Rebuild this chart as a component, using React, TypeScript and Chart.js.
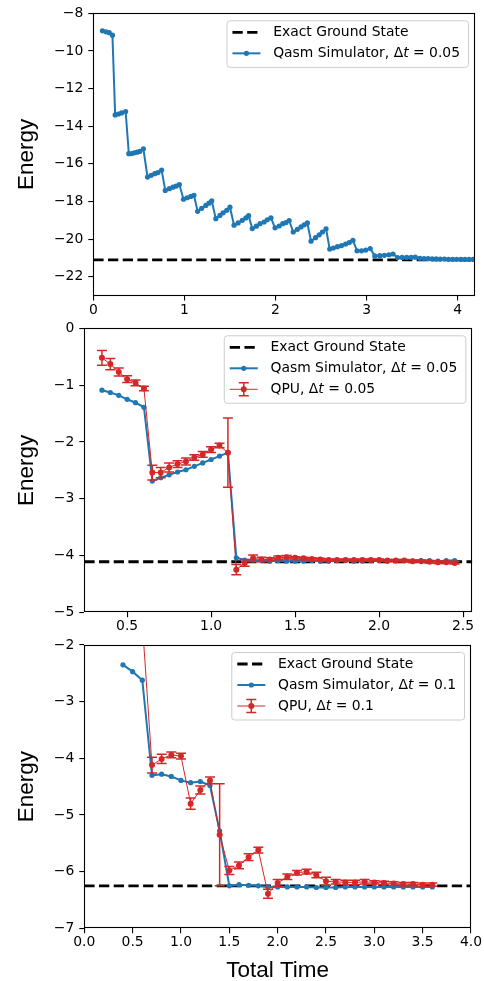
import React, { useEffect, useRef } from "react";
import { Chart, registerables } from "chart.js";
Chart.register(...registerables);

const BLUE = "#1f77b4";
const RED = "#d62728";
const W = 484;

// ---------- Panel 1 : Qasm simulator, dt = 0.05 ----------
const P1_SIM_X = [
  0.10, 0.14, 0.175, 0.21,
  0.24, 0.275, 0.31, 0.355,
  0.39, 0.42, 0.45, 0.48, 0.51, 0.55,
  0.595, 0.635, 0.675, 0.71, 0.75,
  0.79, 0.835, 0.875, 0.91, 0.945,
  0.99, 1.03, 1.07, 1.105,
  1.145, 1.19, 1.235, 1.27, 1.30,
  1.345, 1.39, 1.425, 1.465, 1.50,
  1.545, 1.59, 1.635, 1.675, 1.705,
  1.745, 1.79, 1.83, 1.875, 1.91, 1.95,
  1.995, 2.04, 2.08, 2.115, 2.15,
  2.195, 2.24, 2.28, 2.315, 2.35,
  2.39, 2.44, 2.48, 2.515, 2.555,
  2.595, 2.635, 2.68, 2.725, 2.77, 2.81, 2.85,
  2.895, 2.945, 2.99, 3.04,
  3.09, 3.145, 3.195, 3.245, 3.29,
  3.34, 3.39, 3.44, 3.49, 3.535,
  3.585, 3.63, 3.675, 3.72, 3.765, 3.81, 3.855, 3.90, 3.945, 3.99, 4.035, 4.08, 4.125, 4.17,
];
const P1_SIM_Y = [
  -8.93, -8.98, -9.03, -9.16,
  -13.40, -13.35, -13.29, -13.22,
  -15.46, -15.45, -15.41, -15.38, -15.34, -15.20,
  -16.70, -16.61, -16.52, -16.46, -16.33,
  -17.41, -17.32, -17.24, -17.18, -17.10,
  -17.88, -17.80, -17.73, -17.67,
  -18.52, -18.36, -18.21, -18.09, -17.96,
  -18.91, -18.74, -18.60, -18.47, -18.30,
  -19.26, -19.14, -19.00, -18.87, -18.75,
  -19.44, -19.31, -19.18, -19.09, -18.97, -18.87,
  -19.40, -19.30, -19.18, -19.12, -19.01,
  -19.62, -19.48, -19.35, -19.24, -19.14,
  -20.11, -19.92, -19.77, -19.62, -19.45,
  -20.53, -20.47, -20.40, -20.34, -20.26, -20.18, -20.06,
  -20.62, -20.62, -20.58, -20.50,
  -20.89, -20.88, -20.86, -20.83, -20.79,
  -20.98, -20.97, -20.97, -20.97, -20.96,
  -21.02, -21.03, -21.04, -21.05, -21.05, -21.06, -21.06, -21.07, -21.07, -21.07, -21.08, -21.08, -21.08, -21.08,
];
const P1_GROUND = -21.1;
const P1_X_RANGE = [0, 4.19];
const P1_Y_RANGE = [-23, -8];
const P1_X_TICKS = [0, 1, 2, 3, 4];
const P1_Y_TICKS = [-22, -20, -18, -16, -14, -12, -10, -8];

// ---------- Panel 2 : dt = 0.05 ----------
const P2_X = [
  0.35, 0.40, 0.45, 0.50, 0.55, 0.60, 0.65, 0.70, 0.75, 0.80, 0.85, 0.90, 0.95, 1.00, 1.05, 1.10,
  1.15, 1.20, 1.25, 1.30, 1.35, 1.40, 1.45, 1.50, 1.55, 1.60, 1.65, 1.70, 1.75, 1.80, 1.85, 1.90,
  1.95, 2.00, 2.05, 2.10, 2.15, 2.20, 2.25, 2.30, 2.35, 2.40, 2.45,
];
const P2_SIM = [
  -1.09, -1.13, -1.18, -1.25, -1.31, -1.39,
  -2.69, -2.63, -2.58, -2.53, -2.49, -2.43, -2.37, -2.31, -2.25, -2.19,
  -4.04, -4.08, -4.08, -4.09, -4.10, -4.09, -4.10, -4.10, -4.10, -4.09, -4.10, -4.10, -4.09, -4.09,
  -4.10, -4.10, -4.09, -4.09, -4.10, -4.09, -4.09, -4.10, -4.09, -4.09, -4.10, -4.09, -4.09,
];
const P2_QPU = [
  -0.52, -0.63, -0.77, -0.895, -0.96, -1.06,
  -2.54, -2.54, -2.45, -2.39, -2.345, -2.275, -2.22, -2.135, -2.065, -2.19,
  -4.25, -4.13, -4.05, -4.07, -4.07, -4.04, -4.03, -4.04, -4.05, -4.06, -4.07, -4.08, -4.08, -4.08,
  -4.08, -4.08, -4.08, -4.08, -4.09, -4.09, -4.09, -4.10, -4.10, -4.11, -4.12, -4.12, -4.13,
];
const P2_QPU_ERR = [
  0.13, 0.10, 0.07, 0.06, 0.05, 0.04,
  0.13, 0.09, 0.08, 0.06, 0.06, 0.05, 0.05, 0.05, 0.04, 0.61,
  0.09, 0.06, 0.06, 0.04, 0.03, 0.03, 0.03, 0.02, 0.02, 0.02, 0.02, 0.02, 0.02, 0.02,
  0.02, 0.02, 0.02, 0.02, 0.02, 0.02, 0.02, 0.02, 0.02, 0.02, 0.02, 0.02, 0.02,
];
const P2_GROUND = -4.11;
const P2_X_RANGE = [0.245, 2.555];
const P2_Y_RANGE = [-5, 0];
const P2_X_TICKS = [0.5, 1.0, 1.5, 2.0, 2.5];
const P2_Y_TICKS = [-5, -4, -3, -2, -1, 0];

// ---------- Panel 3 : dt = 0.1 ----------
const P3_SIM_X = [
  0.4, 0.5, 0.6, 0.7, 0.8, 0.9, 1.0, 1.1, 1.2, 1.3, 1.4, 1.5, 1.6, 1.7, 1.8, 1.9, 2.0,
  2.1, 2.2, 2.3, 2.4, 2.5, 2.6, 2.7, 2.8, 2.9, 3.0, 3.1, 3.2, 3.3, 3.4, 3.5, 3.6,
];
const P3_SIM = [
  -2.35, -2.47, -2.62, -4.30, -4.28, -4.32, -4.39, -4.43, -4.41, -4.48, -5.28, -6.25,
  -6.23, -6.24, -6.25, -6.27, -6.27, -6.27, -6.27, -6.27, -6.28, -6.28,
  -6.28, -6.27, -6.27, -6.27, -6.27, -6.27, -6.27, -6.27, -6.27, -6.27, -6.27,
];
const P3_QPU_X = [
  0.6, 0.7, 0.8, 0.9, 1.0, 1.1, 1.2, 1.3, 1.4, 1.5, 1.6, 1.7, 1.8, 1.9, 2.0,
  2.1, 2.2, 2.3, 2.4, 2.5, 2.6, 2.7, 2.8, 2.9, 3.0, 3.1, 3.2, 3.3, 3.4, 3.5, 3.6,
];
const P3_QPU = [
  -1.6, -4.12, -4.01, -3.94, -3.96, -4.80, -4.56, -4.39, -5.35, -5.98, -5.89, -5.745, -5.62, -6.39,
  -6.20, -6.09, -6.02, -6.00, -6.06, -6.17, -6.18, -6.19, -6.19, -6.18, -6.19, -6.20, -6.21,
  -6.22, -6.22, -6.23, -6.23,
];
const P3_QPU_ERR = [
  0.4, 0.14, 0.08, 0.05, 0.05, 0.1, 0.07, 0.06, 0.9, 0.07, 0.06, 0.06, 0.05, 0.08,
  0.06, 0.05, 0.04, 0.04, 0.05, 0.07, 0.04, 0.04, 0.04, 0.04, 0.03, 0.03, 0.03,
  0.03, 0.03, 0.03, 0.03,
];
const P3_GROUND = -6.25;
const P3_X_RANGE = [0, 4.0];
const P3_Y_RANGE = [-7, -2];
const P3_X_TICKS = [0, 0.5, 1.0, 1.5, 2.0, 2.5, 3.0, 3.5, 4.0];
const P3_Y_TICKS = [-7, -6, -5, -4, -3, -2];

// ---------- helpers ----------
const TICK_FONT = 13.9;
const fmt = (v: number, dec: number) => {
  const s = Math.abs(v).toFixed(dec);
  return v < -1e-9 ? "\u2212" + s : s;
};
const pts = (xs: number[], ys: number[]) => xs.map((x, i) => ({ x, y: ys[i] }));

type Seg = { t: string; i?: boolean };
type LegendRow = { kind: "dash" | "sim" | "qpu"; segs: Seg[] };

const dtLabel = (name: string, dt: string): Seg[] => [
  { t: name + ", \u0394" },
  { t: "t", i: true },
  { t: " = " + dt },
];

function simDataset(data: any[]) {
  return {
    data,
    borderColor: BLUE,
    backgroundColor: BLUE,
    borderWidth: 2,
    pointRadius: 2.6,
    pointBorderWidth: 0,
    pointBackgroundColor: BLUE,
    tension: 0,
    order: 1,
  };
}
function qpuDataset(data: any[], errors: number[]) {
  return {
    data,
    errors,
    borderColor: RED,
    backgroundColor: RED,
    borderWidth: 1,
    pointRadius: 3,
    pointBorderWidth: 0,
    pointBackgroundColor: RED,
    tension: 0,
    order: 0,
  };
}
function groundDataset(range: number[], g: number) {
  return {
    data: [
      { x: range[0], y: g },
      { x: range[1], y: g },
    ],
    borderColor: "#000",
    borderWidth: 2.8,
    borderDash: [10.3, 4.4],
    pointRadius: 0,
    order: 2,
  };
}

const errorBarPlugin = {
  id: "errbars",
  beforeDatasetDraw(chart: any, args: any) {
    const ds = chart.data.datasets[args.index];
    if (!ds.errors) return;
    const { ctx, chartArea } = chart;
    const xs = chart.scales.x;
    const ys = chart.scales.y;
    ctx.save();
    ctx.beginPath();
    ctx.rect(chartArea.left, chartArea.top, chartArea.right - chartArea.left, chartArea.bottom - chartArea.top);
    ctx.clip();
    ctx.strokeStyle = ds.borderColor;
    ctx.lineWidth = 1.5;
    ds.data.forEach((p: any, i: number) => {
      const e = ds.errors[i];
      const px = xs.getPixelForValue(p.x);
      const y1 = ys.getPixelForValue(p.y + e);
      const y2 = ys.getPixelForValue(p.y - e);
      ctx.beginPath();
      ctx.moveTo(px, y1);
      ctx.lineTo(px, y2);
      ctx.moveTo(px - 5, y1);
      ctx.lineTo(px + 5, y1);
      ctx.moveTo(px - 5, y2);
      ctx.lineTo(px + 5, y2);
      ctx.stroke();
    });
    ctx.restore();
  },
};

const framePlugin = {
  id: "frame",
  afterDatasetsDraw(chart: any) {
    const { ctx, chartArea } = chart;
    const l = Math.round(chartArea.left) + 0.5;
    const t = Math.round(chartArea.top) + 0.5;
    const r = Math.round(chartArea.right) - 0.5;
    const b = Math.round(chartArea.bottom) - 0.5;
    ctx.save();
    ctx.strokeStyle = "#000";
    ctx.lineWidth = 1.1;
    ctx.strokeRect(l, t, r - l, b - t);
    ctx.restore();
  },
};

function makeLegendPlugin(rows: LegendRow[]) {
  return {
    id: "insideLegend",
    afterDraw(chart: any) {
      const { ctx, chartArea } = chart;
      const fontN = `${TICK_FONT}px "DejaVu Sans"`;
      const fontI = `oblique ${TICK_FONT}px "DejaVu Sans"`;
      ctx.save();
      const widths = rows.map((r) =>
        r.segs.reduce((acc, s) => {
          ctx.font = s.i ? fontI : fontN;
          return acc + ctx.measureText(s.t).width;
        }, 0)
      );
      const maxW = Math.max(...widths);
      const bw = 46.7 + maxW + 8;
      const bh = 21 * rows.length + 4.5;
      const bx = chartArea.right - 7 - bw;
      const by = chartArea.top + 7;
      ctx.beginPath();
      ctx.roundRect(bx + 0.5, by + 0.5, bw, bh, 3);
      ctx.fillStyle = "rgba(255,255,255,0.8)";
      ctx.fill();
      ctx.strokeStyle = "#cccccc";
      ctx.lineWidth = 1;
      ctx.stroke();
      rows.forEach((r, i) => {
        const cy = by + 12 + 21 * i;
        const x0 = bx + 6;
        const x1 = bx + 34;
        const xm = (x0 + x1) / 2;
        if (r.kind === "dash") {
          ctx.setLineDash([10.3, 4.4]);
          ctx.strokeStyle = "#000";
          ctx.lineWidth = 2.8;
          ctx.beginPath();
          ctx.moveTo(x0, cy);
          ctx.lineTo(x1, cy);
          ctx.stroke();
          ctx.setLineDash([]);
        } else if (r.kind === "sim") {
          ctx.strokeStyle = BLUE;
          ctx.lineWidth = 2;
          ctx.beginPath();
          ctx.moveTo(x0, cy);
          ctx.lineTo(x1, cy);
          ctx.stroke();
          ctx.fillStyle = BLUE;
          ctx.beginPath();
          ctx.arc(xm, cy, 2.6, 0, Math.PI * 2);
          ctx.fill();
        } else {
          ctx.strokeStyle = RED;
          ctx.lineWidth = 1;
          ctx.beginPath();
          ctx.moveTo(x0, cy);
          ctx.lineTo(x1, cy);
          ctx.stroke();
          ctx.lineWidth = 1.5;
          ctx.beginPath();
          ctx.moveTo(xm, cy - 6.5);
          ctx.lineTo(xm, cy + 6.5);
          ctx.moveTo(xm - 5, cy - 6.5);
          ctx.lineTo(xm + 5, cy - 6.5);
          ctx.moveTo(xm - 5, cy + 6.5);
          ctx.lineTo(xm + 5, cy + 6.5);
          ctx.stroke();
          ctx.fillStyle = RED;
          ctx.beginPath();
          ctx.arc(xm, cy, 3, 0, Math.PI * 2);
          ctx.fill();
        }
        let tx = bx + 46.7;
        ctx.fillStyle = "#000";
        ctx.textBaseline = "middle";
        ctx.textAlign = "left";
        r.segs.forEach((s) => {
          ctx.font = s.i ? fontI : fontN;
          ctx.fillText(s.t, tx, cy);
          tx += ctx.measureText(s.t).width;
        });
      });
      ctx.restore();
    },
  };
}

function makeTitlesPlugin(xTitle: string | null, xTitleBaseline: number) {
  return {
    id: "titles",
    afterDraw(chart: any) {
      const { ctx, chartArea } = chart;
      ctx.save();
      ctx.fillStyle = "#000";
      ctx.font = '22.5px "Liberation Sans", Arial, sans-serif';
      ctx.textAlign = "center";
      ctx.textBaseline = "alphabetic";
      ctx.translate(33, (chartArea.top + chartArea.bottom) / 2);
      ctx.rotate(-Math.PI / 2);
      ctx.fillText("Energy", 0, 0);
      ctx.restore();
      if (xTitle) {
        ctx.save();
        ctx.fillStyle = "#000";
        ctx.font = '22.5px "Liberation Sans", Arial, sans-serif';
        ctx.textAlign = "center";
        ctx.textBaseline = "alphabetic";
        ctx.fillText(xTitle, (chartArea.left + chartArea.right) / 2, xTitleBaseline);
        ctx.restore();
      }
    },
  };
}

type PanelCfg = {
  top: number;
  height: number;
  area: { left: number; top: number; right: number; bottom: number };
  xRange: number[];
  yRange: number[];
  xTicks: number[];
  yTicks: number[];
  xDec: number;
  datasets: any[];
  legend: LegendRow[];
  xTitle: string | null;
  xTitleBaseline: number;
};

function makeChart(canvas: HTMLCanvasElement, cfg: PanelCfg) {
  const tickFont = { family: '"DejaVu Sans"', size: TICK_FONT };
  const grid = {
    drawOnChartArea: false,
    drawTicks: true,
    tickLength: 5,
    color: "#000",
    lineWidth: 1.1,
  };
  return new Chart(canvas, {
    type: "line",
    data: { datasets: cfg.datasets },
    options: {
      animation: false,
      responsive: false,
      maintainAspectRatio: false,
      events: [],
      layout: {
        padding: { left: 0, top: cfg.area.top, right: W - cfg.area.right, bottom: 0 },
      },
      plugins: { legend: { display: false }, tooltip: { enabled: false } },
      scales: {
        x: {
          type: "linear",
          min: cfg.xRange[0],
          max: cfg.xRange[1],
          afterBuildTicks: (s: any) => {
            s.ticks = cfg.xTicks.map((v) => ({ value: v }));
          },
          afterFit: (s: any) => {
            s.height = cfg.height - cfg.area.bottom;
          },
          ticks: {
            color: "#000",
            font: tickFont,
            padding: 1,
            maxRotation: 0,
            autoSkip: false,
            callback: (v: any) => fmt(Number(v), cfg.xDec),
          },
          grid,
          border: { display: false },
        },
        y: {
          type: "linear",
          min: cfg.yRange[0],
          max: cfg.yRange[1],
          afterBuildTicks: (s: any) => {
            s.ticks = cfg.yTicks.map((v) => ({ value: v }));
          },
          afterFit: (s: any) => {
            s.width = cfg.area.left;
          },
          ticks: {
            color: "#000",
            font: tickFont,
            padding: 5,
            autoSkip: false,
            callback: (v: any) => fmt(Number(v), 0),
          },
          grid,
          border: { display: false },
        },
      },
    } as any,
    plugins: [errorBarPlugin, framePlugin, makeLegendPlugin(cfg.legend), makeTitlesPlugin(cfg.xTitle, cfg.xTitleBaseline)],
  } as any);
}

const PANELS: PanelCfg[] = [
  {
    top: 0,
    height: 325,
    area: { left: 93.3, top: 12.5, right: 475, bottom: 295.6 },
    xRange: P1_X_RANGE,
    yRange: P1_Y_RANGE,
    xTicks: P1_X_TICKS,
    yTicks: P1_Y_TICKS,
    xDec: 0,
    datasets: [groundDataset(P1_X_RANGE, P1_GROUND), simDataset(pts(P1_SIM_X, P1_SIM_Y))],
    legend: [
      { kind: "dash", segs: [{ t: "Exact Ground State" }] },
      { kind: "sim", segs: dtLabel("Qasm Simulator", "0.05") },
    ],
    xTitle: null,
    xTitleBaseline: 0,
  },
  {
    top: 310,
    height: 330,
    area: { left: 84.3, top: 18.3, right: 472.3, bottom: 302.3 },
    xRange: P2_X_RANGE,
    yRange: P2_Y_RANGE,
    xTicks: P2_X_TICKS,
    yTicks: P2_Y_TICKS,
    xDec: 1,
    datasets: [
      groundDataset(P2_X_RANGE, P2_GROUND),
      simDataset(pts(P2_X, P2_SIM)),
      qpuDataset(pts(P2_X, P2_QPU), P2_QPU_ERR),
    ],
    legend: [
      { kind: "dash", segs: [{ t: "Exact Ground State" }] },
      { kind: "sim", segs: dtLabel("Qasm Simulator", "0.05") },
      { kind: "qpu", segs: dtLabel("QPU", "0.05") },
    ],
    xTitle: null,
    xTitleBaseline: 0,
  },
  {
    top: 625,
    height: 356,
    area: { left: 84.3, top: 20, right: 471, bottom: 303.3 },
    xRange: P3_X_RANGE,
    yRange: P3_Y_RANGE,
    xTicks: P3_X_TICKS,
    yTicks: P3_Y_TICKS,
    xDec: 1,
    datasets: [
      groundDataset(P3_X_RANGE, P3_GROUND),
      simDataset(pts(P3_SIM_X, P3_SIM)),
      qpuDataset(pts(P3_QPU_X, P3_QPU), P3_QPU_ERR),
    ],
    legend: [
      { kind: "dash", segs: [{ t: "Exact Ground State" }] },
      { kind: "sim", segs: dtLabel("Qasm Simulator", "0.1") },
      { kind: "qpu", segs: dtLabel("QPU", "0.1") },
    ],
    xTitle: "Total Time",
    xTitleBaseline: 352,
  },
];

function Panel({ cfg }: { cfg: PanelCfg }) {
  const ref = useRef<HTMLCanvasElement>(null);
  useEffect(() => {
    if (!ref.current) return;
    const c = makeChart(ref.current, cfg);
    return () => c.destroy();
  }, [cfg]);
  return (
    <canvas
      ref={ref}
      width={W}
      height={cfg.height}
      style={{ position: "absolute", left: 0, top: cfg.top, width: W, height: cfg.height }}
    />
  );
}

export default function App() {
  return (
    <div
      style={{
        position: "absolute",
        left: 0,
        top: 0,
        width: W,
        height: 981,
        background: "#fff",
        overflow: "hidden",
      }}
    >
      {PANELS.map((p, i) => (
        <Panel key={i} cfg={p} />
      ))}
    </div>
  );
}
